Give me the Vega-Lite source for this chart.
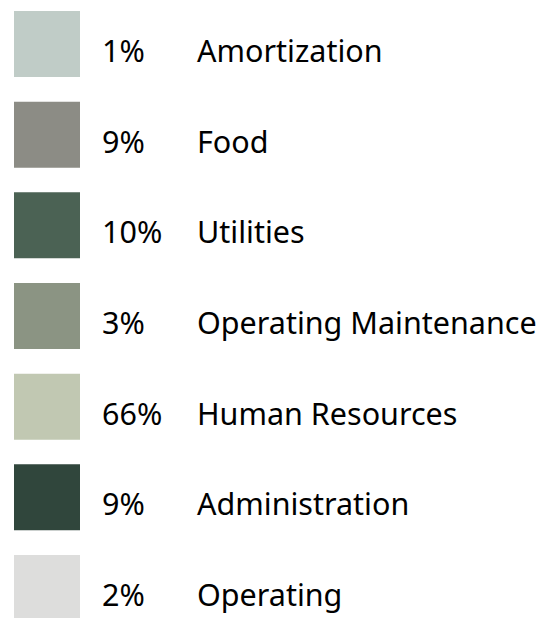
{
  "$schema": "https://vega.github.io/schema/vega-lite/v6.json",
  "width": 555,
  "height": 618,
  "autosize": {"type": "none"},
  "padding": 0,
  "background": "white",
  "config": {"view": {"stroke": null}},
  "data": {
    "values": [
      {"name": "Amortization", "pct": "1%", "color": "#c0ccc7"},
      {"name": "Food", "pct": "9%", "color": "#8c8c85"},
      {"name": "Utilities", "pct": "10%", "color": "#4b6254"},
      {"name": "Operating Maintenance", "pct": "3%", "color": "#8b9483"},
      {"name": "Human Resources", "pct": "66%", "color": "#c1c8b2"},
      {"name": "Administration", "pct": "9%", "color": "#30463c"},
      {"name": "Operating", "pct": "2%", "color": "#dddddc"}
    ]
  },
  "encoding": {
    "y": {
      "field": "name",
      "type": "nominal",
      "sort": null,
      "axis": null,
      "scale": {"type": "point", "padding": 0, "range": [44, 588]}
    }
  },
  "layer": [
    {
      "mark": {"type": "square", "x": 47, "size": 4356, "filled": true, "opacity": 1},
      "encoding": {"color": {"field": "color", "type": "nominal", "scale": null}}
    },
    {
      "mark": {"type": "text", "x": 102, "align": "left", "baseline": "alphabetic", "dy": 18, "font": "Noto Sans", "fontSize": 30.5, "color": "#000000"},
      "encoding": {"text": {"field": "pct"}}
    },
    {
      "mark": {"type": "text", "x": 197, "align": "left", "baseline": "alphabetic", "dy": 18, "font": "Noto Sans", "fontSize": 30.5, "color": "#000000"},
      "encoding": {"text": {"field": "name"}}
    }
  ]
}
